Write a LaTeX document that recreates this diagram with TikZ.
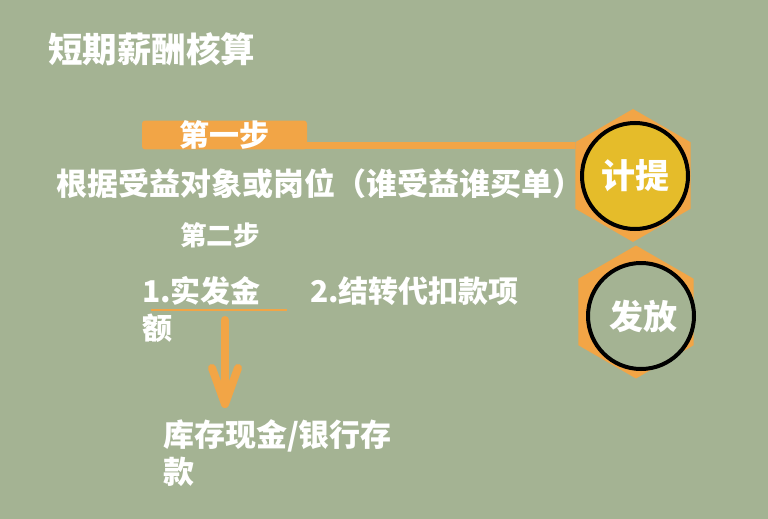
\documentclass[tikz,border=0pt]{standalone}
\usepackage{fontspec}
\setmainfont{Noto Sans CJK SC}
\usetikzlibrary{shapes.geometric}
\definecolor{bg}{RGB}{164,179,147}
\definecolor{org}{RGB}{242,165,70}
\definecolor{gold}{RGB}{229,188,42}
\begin{document}
\begin{tikzpicture}[x=1pt,y=-1pt,
  txt/.style={text=white, inner sep=0pt, outer sep=0pt, anchor=west, align=left,
    font=\bfseries\fontsize{30}{37}\selectfont},
  hexa/.style={regular polygon, regular polygon sides=6, shape border rotate=30,
    fill=org, minimum size=133pt, inner sep=0pt, outer sep=0pt},
  disc/.style={circle, draw=black, line width=4pt, minimum size=106pt, inner sep=0pt,
    text=white, font=\bfseries\fontsize{34}{40}\selectfont},
  conn/.style={draw=org, line width=7pt},
  arr/.style={draw=org, line width=8pt, line cap=round, line join=round}]
\fill[bg] (0,0) rectangle (768,519);
\useasboundingbox (0,0) rectangle (768,519);
% title
\node[txt, font=\bfseries\fontsize{34.5}{40}\selectfont] (title) at (48,49) {短期薪酬核算};
% hexagons and circles
\node[hexa] (hex1) at (633,175.5) {};
\node[hexa] (hex2) at (636,312) {};
\node[disc, fill=gold] (c1) at (635,176) {计提};
\node[disc, fill=bg] (c2) at (641,316) {\hspace*{5pt}\raisebox{-5pt}{发放}};
% step 1 bar
\node[fill=org, rounded corners=3pt, minimum width=165pt, minimum height=26pt, inner sep=0pt,
  text=white, font=\bfseries\fontsize{30}{37}\selectfont] (step1) at (224.5,135) {第一步};
\coordinate (ls) at (300,145.5);
\draw[conn] (ls) -- (ls -| hex1.west);
% texts
\node[txt, font=\bfseries\fontsize{31}{37}\selectfont] (basis) at (56,184) {根据受益对象或岗位（谁受益谁买单）};
\node[txt, font=\bfseries\fontsize{26.5}{32}\selectfont] (step2) at (180,235) {第二步};
\node[txt] (amt) at (142,309.5) {1.实发金\\额};
\node[txt] (trans) at (310,291) {2.结转代扣款项};
\node[txt, font=\bfseries\fontsize{31}{37}\selectfont] (cash) at (163,453.5) {库存现金/银行存\\款};
% underline
\draw[org, line width=2pt] (151,310) -- (287,310);
% arrow
\coordinate (a1) at (225,320);
\coordinate (a2) at (225,404);
\draw[arr] (a1) -- (a2);
\draw[arr] ([shift={(-13,-36)}]a2) -- (a2) -- ([shift={(13,-36)}]a2);
\end{tikzpicture}
\end{document}
